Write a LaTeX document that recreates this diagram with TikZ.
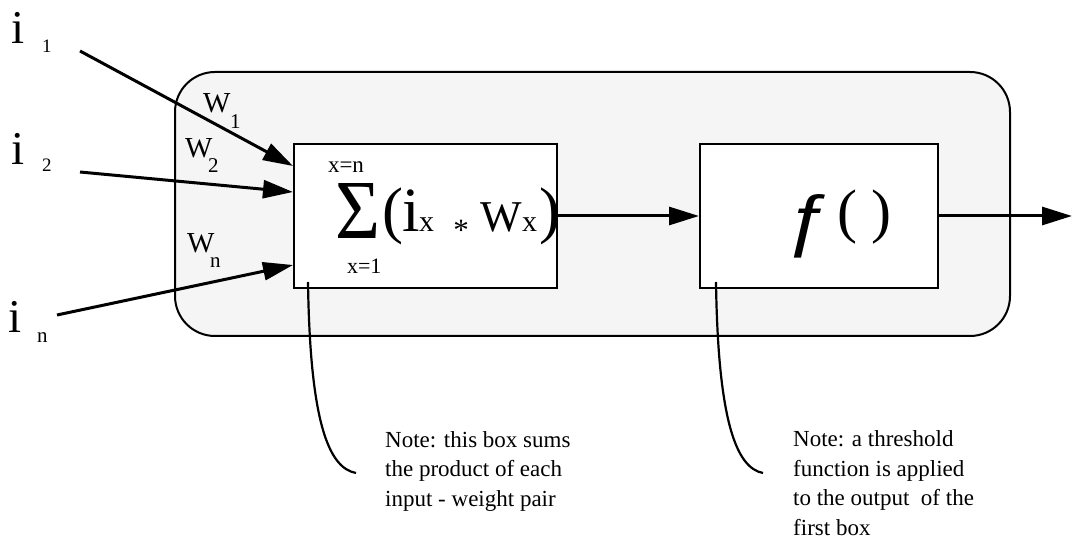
\documentclass[tikz,border=0pt]{standalone}
\usepackage{fontspec}
\usepackage{graphicx}
\setmainfont{Liberation Serif}
\newfontfamily\sansfam{Liberation Sans}
\usetikzlibrary{arrows.meta,calc}
\definecolor{panel}{HTML}{F5F5F5}
\tikzset{
  fs/.style={font=\fontsize{#1}{#1}\selectfont},
  lbl/.style={anchor=base west, inner sep=0pt, outer sep=0pt},
  unitbox/.style={draw, line width=2pt, fill=white, inner sep=0pt, minimum height=144pt},
  conn/.style={line width=3pt, -{Triangle[length=30pt,width=18pt]}},
  notecurve/.style={line width=2.2pt},
  notetext/.style={anchor=base west, align=left, inner sep=0pt, font=\fontsize{23}{29.5}\selectfont},
}
\begin{document}
\begin{tikzpicture}[x=1pt,y=-1pt]
\useasboundingbox (0,0) rectangle (1072,540);
% outer panel
\node[draw, line width=2pt, fill=panel, rounded corners=40pt, minimum width=835pt, minimum height=264pt, inner sep=0pt] (panel) at (592.5,204) {};
% boxes
\node[unitbox, minimum width=263pt] (sum) at (425.5,216) {};
\node[unitbox, minimum width=238pt] (f) at (819,216) {};
% inputs
\node[lbl, fs=47] (i1) at (11,44) {i};
\node[lbl, fs=19] (i1s) at (42,53) {1};
\node[lbl, fs=47] (i2) at (11,165) {i};
\node[lbl, fs=19] (i2s) at (42,172) {2};
\node[lbl, fs=47] (in) at (9,333) {i};
\node[lbl, fs=21] (ins) at (37,342) {n};
% weights
\node[lbl, fs=29] (w1) at (203,113) {W};
\node[lbl, fs=21] (w1s) at (230,129) {1};
\node[lbl, fs=29] (w2) at (185,158) {W};
\node[lbl, fs=21] (w2s) at (208,173) {2};
\node[lbl, fs=29] (wn) at (187,253) {W};
\node[lbl, fs=21] (wns) at (210,268) {n};
% input arrows
\coordinate (a1) at (80,51);
\coordinate (a2) at (80,172);
\coordinate (an) at (57,315);
\draw[conn] (a1) -- ($(sum.north west)+(0,23)$);
\draw[conn] (a2) -- ($(sum.north west)+(0,49)$);
\draw[conn] (an) -- ($(sum.north west)+(0,122)$);
% sum formula
\node[lbl, fs=23] (top) at (328,173) {x=n};
\node[lbl, fs=22] (bot) at (347,274) {x=1};
\node[inner sep=0pt] (sigma) at (357.5,210.5) {\resizebox{45pt}{55pt}{Σ}};
\node[lbl, fs=63] (lp) at (382,232) {(i};
\node[lbl, fs=30] (ix) at (419,232) {x};
\node[anchor=base, inner sep=0pt, fs=31] (star) at (461,240.5) {*};
\node[lbl, fs=44] (wx) at (480,232) {W};
\node[lbl, fs=30] (wxx) at (522,232) {x};
\node[lbl, fs=63] (rp) at (539,232) {)};
% f box text
\node[lbl, font=\sansfam\fontsize{69}{69}\selectfont] (fn) at (786,244) {\scalebox{1.2}[1]{ƒ}};
\node[lbl, fs=60] (fp) at (837,232) {( )};
% connections
\draw[conn] (sum.east) -- (f.west);
\coordinate (out) at (1072,216);
\draw[conn] (f.east) -- (out);
% notes
\coordinate (c1a) at (308,282);
\coordinate (c1b) at (356,473);
\coordinate (c2a) at (716,282);
\coordinate (c2b) at (763,473);
\draw[notecurve] (c1a) .. controls (310,420) and (328,468) .. (c1b);
\draw[notecurve] (c2a) .. controls (718,420) and (736,468) .. (c2b);
\node[notetext] (n1) at (385,506) {Note: this box sums\\the product of each\\input - weight pair};
\node[notetext] (n2) at (793,535) {Note: a threshold\\function is applied\\to the output\ \ of the\\first box};
\end{tikzpicture}
\end{document}
